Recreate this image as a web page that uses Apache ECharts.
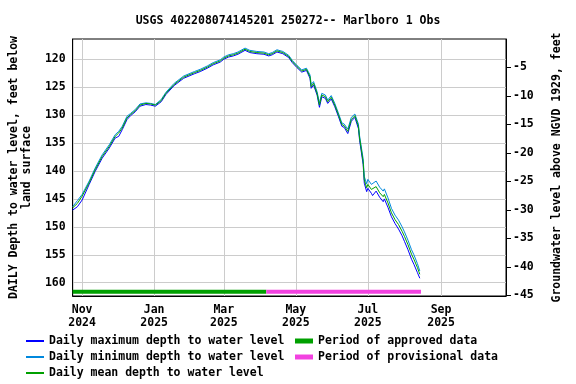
<!DOCTYPE html>
<html>
<head>
<meta charset="utf-8">
<script src="https://cdn.jsdelivr.net/npm/echarts@6/dist/echarts.min.js"></script>
<style>
html,body{margin:0;padding:0;background:#fff;}
#c{width:576px;height:384px;}
</style>
</head>
<body>
<div id="c"></div>
<script>
var titleText = 'USGS 402208074145201 250272-- Marlboro 1 Obs';
var leftAxisName = 'DAILY Depth to water level, feet below\nland surface';
var rightAxisName = 'Groundwater level above NGVD 1929, feet';

var dates = ['2024-10-24','2024-10-28','2024-11-01','2024-11-07','2024-11-12','2024-11-18','2024-11-24','2024-11-29',
'2024-12-02','2024-12-05','2024-12-09','2024-12-12','2024-12-16','2024-12-20','2024-12-25','2024-12-29',
'2025-01-02','2025-01-07','2025-01-11','2025-01-18','2025-01-26','2025-02-04','2025-02-09','2025-02-15',
'2025-02-20','2025-02-26','2025-03-01','2025-03-05','2025-03-09','2025-03-13','2025-03-19','2025-03-23',
'2025-03-29','2025-04-04','2025-04-08','2025-04-11','2025-04-15','2025-04-20','2025-04-25','2025-04-28',
'2025-05-02','2025-05-06','2025-05-10','2025-05-13','2025-05-14','2025-05-16','2025-05-19','2025-05-21',
'2025-05-23','2025-05-26','2025-05-28','2025-05-31','2025-06-03','2025-06-06','2025-06-09','2025-06-11',
'2025-06-14','2025-06-17','2025-06-20','2025-06-23','2025-06-24','2025-06-27','2025-06-28','2025-06-30',
'2025-07-01','2025-07-02','2025-07-04','2025-07-05','2025-07-08','2025-07-11','2025-07-14','2025-07-15',
'2025-07-18','2025-07-21','2025-07-24','2025-07-27','2025-07-30','2025-08-01','2025-08-04','2025-08-07',
'2025-08-09','2025-08-12','2025-08-14'];

var meanDepth = [146.6,145.8,144.5,142.1,139.8,137.4,135.6,133.8,
133.2,132.3,130.5,129.9,129.2,128.2,127.9,128.0,
128.2,127.4,126.1,124.5,123.2,122.4,122.0,121.4,
120.8,120.3,119.8,119.4,119.2,118.9,118.2,118.6,
118.8,118.9,119.2,119.0,118.5,118.8,119.5,120.4,
121.3,122.1,121.8,123.1,124.9,124.3,126.1,128.2,
126.4,126.7,127.6,126.8,128.2,129.9,131.7,131.9,
132.9,130.8,130.1,132.0,134.1,138.3,141.6,143.0,
142.4,142.4,143.3,143.6,142.8,143.9,144.6,144.2,
145.7,147.5,148.7,149.6,150.8,151.7,153.2,154.9,
155.8,157.3,158.5];

var maxDepth = [147.0,146.4,145.2,142.4,140.1,137.7,135.9,134.1,
133.8,132.6,130.8,130.1,129.4,128.4,128.1,128.2,
128.4,127.6,126.3,124.7,123.4,122.6,122.2,121.6,
121.0,120.5,120.0,119.6,119.4,119.1,118.4,118.8,
119.0,119.1,119.4,119.2,118.7,119.0,119.7,120.6,
121.5,122.3,122.0,123.4,125.2,124.6,126.4,128.6,
126.7,127.0,127.9,127.1,128.5,130.2,132.0,132.2,
133.3,131.1,130.4,132.4,134.5,138.8,142.2,143.7,
143.1,143.0,144.0,144.4,143.6,144.7,145.5,145.0,
146.5,148.2,149.4,150.4,151.6,152.6,154.1,155.8,
156.7,158.2,159.2];

var minDepth = [146.4,145.3,144.2,141.8,139.5,137.1,135.3,133.5,
132.9,132.0,130.2,129.7,129.0,128.0,127.8,127.9,
128.1,127.2,125.9,124.3,123.0,122.2,121.8,121.2,
120.6,120.1,119.6,119.2,119.0,118.7,118.0,118.4,
118.6,118.7,119.0,118.8,118.3,118.6,119.3,120.2,
121.1,121.9,121.6,122.8,124.5,124.0,125.8,127.8,
126.1,126.4,127.3,126.5,127.9,129.6,131.4,131.6,
132.5,130.4,129.8,131.6,133.7,137.8,141.0,142.3,
141.5,141.3,142.4,142.6,141.8,142.9,143.6,143.2,
144.8,146.7,147.9,148.8,150.0,150.9,152.4,154.1,
155.0,156.6,157.9];

var approvedPeriod = ['2024-10-24','2025-04-06'];
var provisionalPeriod = ['2025-04-06','2025-08-15'];
var periodBarDepth = 161.6;

var xRange = ['2024-10-24','2025-10-26'];
var xTickDates = ['2024-11-01','2025-01-01','2025-03-01','2025-05-01','2025-07-01','2025-09-01'];
var leftTicks = [120,125,130,135,140,145,150,155,160];
var leftRange = [116.37,162.38];
var rightTicks = [-45,-40,-35,-30,-25,-20,-15,-10,-5];
var rightRange = [-45.1,0];
var monthNames = ['Jan','Feb','Mar','Apr','May','Jun','Jul','Aug','Sep','Oct','Nov','Dec'];

function ts(s){ var p = s.split('-'); return Date.UTC(+p[0], +p[1]-1, +p[2]); }
function pairs(vals){ return dates.map(function(d,i){ return [ts(d), vals[i]]; }); }

var FONT = 'DejaVu Sans Mono';
var FS = 11.5;
var chart = echarts.init(document.getElementById('c'), null, {renderer:'canvas'});
var xTicks = xTickDates.map(ts);
var legendText = {fontFamily: FONT, fontSize: FS, fontWeight: 'bold', color: '#000', lineHeight: 14};

chart.setOption({
  animation: false,
  backgroundColor: '#ffffff',
  title: {
    text: titleText, left: 'center', top: 10,
    textStyle: {fontFamily: FONT, fontSize: FS, fontWeight: 'bold', color: '#000'}
  },
  grid: {left: 71, right: 70, top: 39, bottom: 88, show: true, borderColor: '#000', borderWidth: 1, containLabel: false},
  legend: [{
    orient: 'vertical', left: 26, top: 334, height: 60, padding: 0, itemWidth: 18, itemHeight: 2, itemGap: 2, icon: 'rect',
    textStyle: legendText,
    data: ['Daily maximum depth to water level','Daily minimum depth to water level','Daily mean depth to water level']
  },{
    orient: 'vertical', left: 295, top: 334, height: 60, padding: 0, itemWidth: 18, itemHeight: 5, itemGap: 2, icon: 'rect',
    textStyle: legendText,
    data: ['Period of approved data','Period of provisional data']
  }],
  xAxis: {
    type: 'value', min: ts(xRange[0]), max: ts(xRange[1]),
    axisLine: {show: true, onZero: false, lineStyle: {color: '#000'}},
    axisTick: {show: false, customValues: xTicks},
    splitLine: {show: true, lineStyle: {color: '#cccccc', width: 1}},
    axisLabel: {
      customValues: xTicks, margin: 8, lineHeight: 13,
      fontFamily: FONT, fontSize: FS, fontWeight: 'bold', color: '#000',
      formatter: function(v){ var d = new Date(v); return monthNames[d.getUTCMonth()] + '\n' + d.getUTCFullYear(); }
    }
  },
  yAxis: [{
    type: 'value', inverse: true, min: leftRange[0], max: leftRange[1], position: 'left',
    name: leftAxisName, nameLocation: 'middle', nameGap: 35, nameRotate: 90,
    nameTextStyle: {fontFamily: FONT, fontSize: FS, fontWeight: 'bold', color: '#000', lineHeight: 13},
    axisLine: {show: true, onZero: false, lineStyle: {color: '#000'}},
    axisTick: {show: false, customValues: leftTicks},
    splitLine: {show: true, lineStyle: {color: '#cccccc', width: 1}},
    axisLabel: {customValues: leftTicks, margin: 7, fontFamily: FONT, fontSize: FS, fontWeight: 'bold', color: '#000'}
  },{
    type: 'value', min: rightRange[0], max: rightRange[1], position: 'right',
    name: rightAxisName, nameLocation: 'middle', nameGap: 45, nameRotate: 90,
    nameTextStyle: {fontFamily: FONT, fontSize: FS, fontWeight: 'bold', color: '#000'},
    axisLine: {show: true, onZero: false, lineStyle: {color: '#000'}},
    axisTick: {show: true, inside: false, length: 5, customValues: rightTicks, lineStyle: {color: '#000'}},
    splitLine: {show: false},
    axisLabel: {customValues: rightTicks, margin: 7, fontFamily: FONT, fontSize: FS, fontWeight: 'bold', color: '#000'}
  }],
  series: [
    {name: 'Period of approved data', type: 'line', yAxisIndex: 0, showSymbol: false, silent: true,
     color: '#00a000', lineStyle: {width: 4, color: '#00a000'},
     data: approvedPeriod.map(function(d){ return [ts(d), periodBarDepth]; })},
    {name: 'Period of provisional data', type: 'line', yAxisIndex: 0, showSymbol: false, silent: true,
     color: '#f242e0', lineStyle: {width: 4, color: '#f242e0'},
     data: provisionalPeriod.map(function(d){ return [ts(d), periodBarDepth]; })},
    {name: 'Daily maximum depth to water level', type: 'line', yAxisIndex: 0, showSymbol: false,
     color: '#0000ff', lineStyle: {width: 1, color: '#0000ff'}, data: pairs(maxDepth)},
    {name: 'Daily minimum depth to water level', type: 'line', yAxisIndex: 0, showSymbol: false,
     color: '#0088dd', lineStyle: {width: 1, color: '#0088dd'}, data: pairs(minDepth)},
    {name: 'Daily mean depth to water level', type: 'line', yAxisIndex: 0, showSymbol: false,
     color: '#00a000', lineStyle: {width: 1, color: '#00a000'}, data: pairs(meanDepth)}
  ]
});
</script>
</body>
</html>
